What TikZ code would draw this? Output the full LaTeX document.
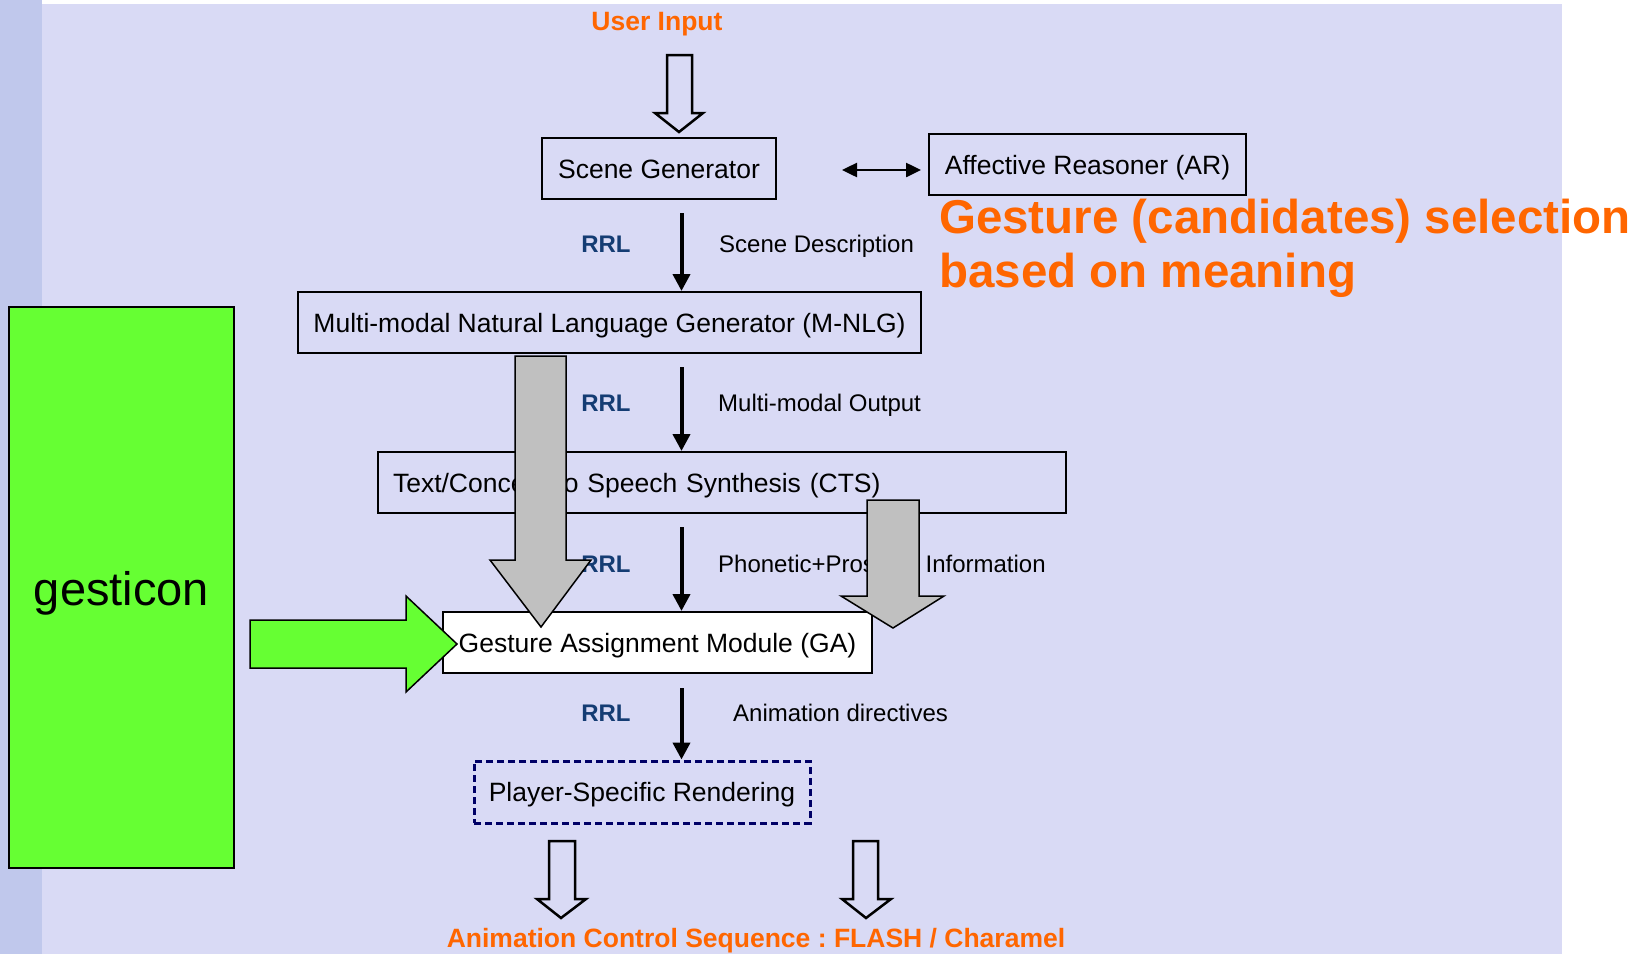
\documentclass[tikz,border=0pt]{standalone}
\usepackage{fontspec}
\setmainfont{Liberation Sans}
\usetikzlibrary{arrows.meta,calc}
\definecolor{bglav}{RGB}{217,218,245}
\definecolor{bgstrip}{RGB}{192,200,236}
\definecolor{orng}{RGB}{255,102,0}
\definecolor{rrlblue}{RGB}{20,60,115}
\definecolor{gestgreen}{RGB}{102,255,51}
\definecolor{arrgray}{RGB}{192,192,192}
\definecolor{navyline}{RGB}{0,0,102}
\frenchspacing
\begin{document}
\begin{tikzpicture}[x=1pt,y=-1pt,
  box/.style={draw=black, line width=2pt, inner sep=0pt, minimum height=61pt,
    font=\fontsize{26.5}{30}\selectfont, text height=19pt, text depth=0pt},
  rrl/.style={anchor=base, text=rrlblue, font=\fontsize{24}{28}\selectfont\bfseries, inner sep=0pt},
  desc/.style={anchor=base west, font=\fontsize{24}{28}\selectfont, inner sep=0pt},
  flow/.style={line width=4pt, -{Triangle[length=17pt,width=17pt]}},
  dbl/.style={line width=2.5pt, {Triangle[length=15pt,width=14pt]}-{Triangle[length=15pt,width=14pt]}},
  hollow/.style={draw=black, line width=2.5pt, fill=bglav, line join=miter},
  grayarr/.style={draw=black, line width=1.5pt, fill=arrgray, line join=miter},
  greenarr/.style={draw=black, line width=1.5pt, fill=gestgreen, line join=miter},
  orangebig/.style={anchor=base west, text=orng, font=\fontsize{47.5}{54}\selectfont\bfseries, inner sep=0pt},
  orangesmall/.style={anchor=base, text=orng, font=\fontsize{26.5}{30}\selectfont\bfseries, inner sep=0pt}
]
\useasboundingbox (0,0) rectangle (1639,954);
% background
\fill[white] (0,0) rectangle (1639,954);
\fill[bglav] (42,4) rectangle (1562,954);
\fill[bgstrip] (0,0) rectangle (42,954);

% boxes
\node[box, minimum width=234pt] (sg) at (659,168.5) {Scene Generator};
\node[box, minimum width=317pt] (ar) at (1087.5,164.5) {Affective Reasoner (AR)};
\node[box, minimum width=623pt] (mnlg) at (609.5,322.5) {Multi-modal Natural Language Generator (M-NLG)};
\node[box, text width=658pt, inner xsep=15pt, align=left] (cts) at (722,482.5) {Text/Concept to Speech Synthesis (CTS)};
\node[box, minimum width=429pt, fill=white] (ga) at (657.5,642.5) {Gesture Assignment Module (GA)};
\node[box, minimum width=336pt, minimum height=62pt, draw=navyline, line width=3pt, dash pattern=on 7pt off 4pt] (psr) at (642,792) {Player-Specific Rendering};
\node[draw=black, line width=2pt, fill=gestgreen, minimum width=225pt, minimum height=561pt, inner sep=0pt,
  font=\fontsize{47}{50}\selectfont, text height=35pt, text depth=0pt] (gest) at (121.5,587.5) {gesticon};

% titles
\node[orangesmall] (ui) at (657,30) {User Input};
\node[orangebig] (gsel1) at (939,233) {Gesture (candidates) selection};
\node[orangebig] (gsel2) at (939,287) {based on meaning};
\node[orangesmall] (acs) at (756,947) {Animation Control Sequence : FLASH / Charamel};

% flow arrows
\coordinate (ax) at (681.5,0);
\draw[flow, shorten <=13pt] (sg.south -| ax) -- (mnlg.north -| ax);
\draw[flow, shorten <=13pt] (mnlg.south -| ax) -- (cts.north -| ax);
\draw[flow, shorten <=13pt] (cts.south -| ax) -- (ga.north -| ax);
\draw[flow, shorten <=14pt] (ga.south -| ax) -- (psr.north -| ax);
\coordinate (dl) at (842,170);
\draw[dbl, shorten >=7pt] (dl) -- (ar.west |- dl);

% labels
\node[rrl] (r1) at (606,252) {RRL};
\node[desc] (d1) at (719,252) {Scene Description};
\node[rrl] (r2) at (606,411) {RRL};
\node[desc] (d2) at (718,411) {Multi-modal Output};
\node[rrl] (r3) at (606,572) {RRL};
\node[desc] (d3) at (718,572) {Phonetic+Prosodic Information};
\node[rrl] (r4) at (606,721) {RRL};
\node[desc] (d4) at (733,721) {Animation directives};

% hollow block arrows
\draw[hollow] (667,55) -- (692,55) -- (692,113) -- (703,113) -- (679,132) -- (655,113) -- (667,113) -- cycle;
\draw[hollow] (549,841) -- (575,841) -- (575,899) -- (586,899) -- (561,918) -- (537,899) -- (549,899) -- cycle;
\draw[hollow] (853,841) -- (878,841) -- (878,899) -- (891,899) -- (866,918) -- (842,899) -- (853,899) -- cycle;

% gray arrows
\draw[grayarr] (515,356) -- (566,356) -- (566,560) -- (591,560) -- (541,627) -- (490,560) -- (515,560) -- cycle;
\draw[grayarr] (867,500) -- (919,500) -- (919,596) -- (944,596) -- (893,628) -- (841,596) -- (867,596) -- cycle;

% green arrow
\draw[greenarr] (250,620) -- (406,620) -- (406,596) -- (457,644) -- (406,692) -- (406,668) -- (250,668) -- cycle;
\end{tikzpicture}
\end{document}
